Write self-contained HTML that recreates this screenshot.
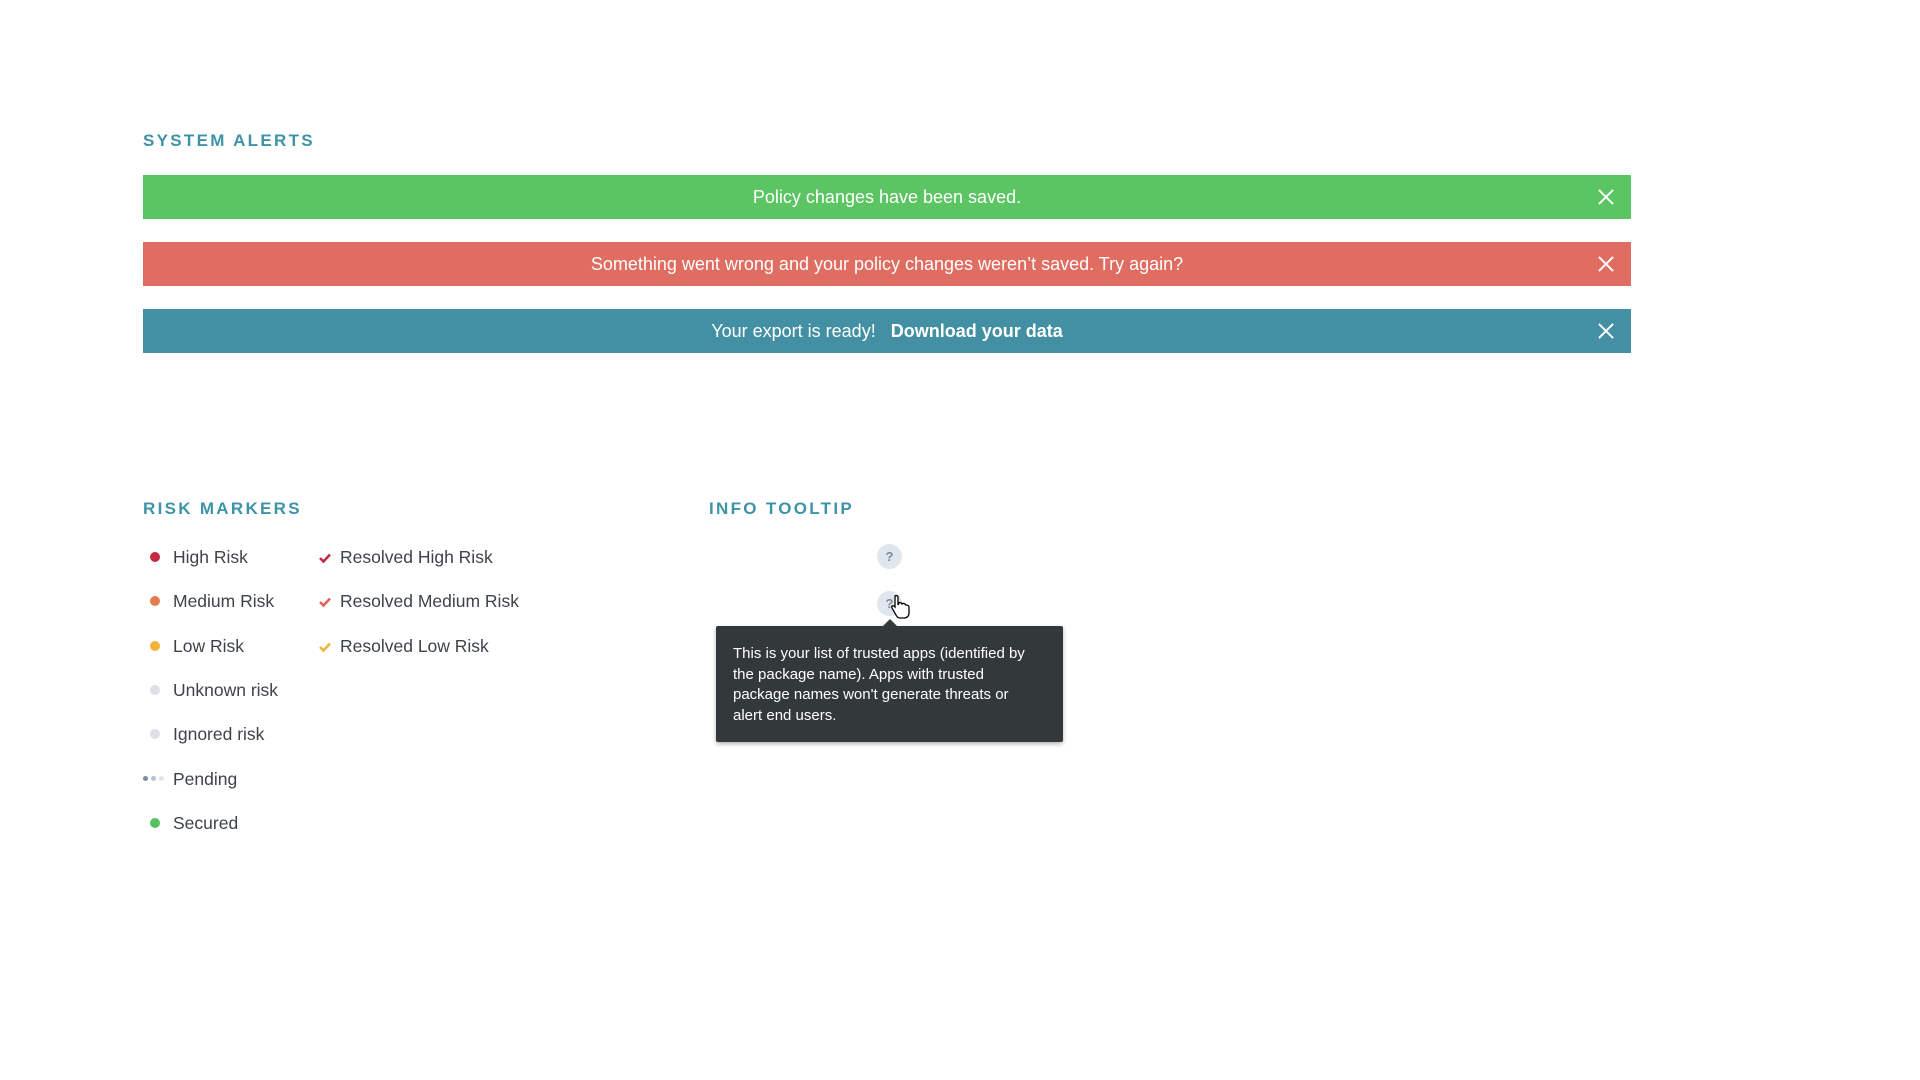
<!DOCTYPE html>
<html><head><meta charset="utf-8"><style>
*{margin:0;padding:0;box-sizing:border-box}
body{width:1920px;height:1080px;background:#fff;font-family:"Liberation Sans",sans-serif;position:relative;overflow:hidden;color:#3d4449}
.h{position:absolute;font-size:17px;font-weight:bold;letter-spacing:2.3px;color:#3f93a6;line-height:20px}
.bar{position:absolute;left:143px;width:1488px;height:44px;color:#fff;font-size:18px;line-height:44px;text-align:center}
.x{position:absolute;right:17px;top:14px;width:16px;height:16px}
.x:before,.x:after{content:"";position:absolute;left:7px;top:-2px;width:2px;height:20px;background:#fff;transform:rotate(45deg)}
.x:after{transform:rotate(-45deg)}
.row{position:absolute;font-size:17.5px;line-height:24px;height:24px}
.dot{position:absolute;width:10px;height:10px;border-radius:50%}
.chk{position:absolute;width:12px;height:12px}
.q{position:absolute;width:25px;height:25px;border-radius:50%;background:#dfe6ee;color:#7a8a9c;font-size:13px;font-weight:bold;text-align:center;line-height:25px}
</style></head><body>
<div class="h" style="left:143px;top:131px">SYSTEM ALERTS</div>
<div class="bar" style="top:175px;background:#5bc463">Policy changes have been saved.<div class="x"></div></div>
<div class="bar" style="top:242px;background:#df6d62">Something went wrong and your policy changes weren’t saved. Try again?<div class="x"></div></div>
<div class="bar" style="top:309px;background:#4390a5">Your export is ready!&nbsp;&nbsp; <b>Download your data</b><div class="x"></div></div>

<div class="h" style="left:143px;top:499px">RISK MARKERS</div>
<div class="row" style="left:150px;top:545px"><span class="dot" style="left:0;top:7px;background:#c42a45"></span><span style="position:absolute;left:23px;white-space:nowrap">High Risk</span></div>
<div class="row" style="left:150px;top:589px"><span class="dot" style="left:0;top:7px;background:#e57b4e"></span><span style="position:absolute;left:23px;white-space:nowrap">Medium Risk</span></div>
<div class="row" style="left:150px;top:634px"><span class="dot" style="left:0;top:7px;background:#f2b53a"></span><span style="position:absolute;left:23px;white-space:nowrap">Low Risk</span></div>
<div class="row" style="left:150px;top:678px"><span class="dot" style="left:0;top:7px;background:#dde1e6"></span><span style="position:absolute;left:23px;white-space:nowrap">Unknown risk</span></div>
<div class="row" style="left:150px;top:722px"><span class="dot" style="left:0;top:7px;background:#dde1e6"></span><span style="position:absolute;left:23px;white-space:nowrap">Ignored risk</span></div>
<div class="row" style="left:143px;top:767px"><span class="dot" style="left:0;top:9px;width:5px;height:5px;background:#7d8ba3"></span><span class="dot" style="left:8px;top:9px;width:5px;height:5px;background:#b9c2cf"></span><span class="dot" style="left:16px;top:9px;width:5px;height:5px;background:#e1e5ea"></span><span style="position:absolute;left:30px;white-space:nowrap">Pending</span></div>
<div class="row" style="left:150px;top:811px"><span class="dot" style="left:0;top:7px;background:#56c15e"></span><span style="position:absolute;left:23px;white-space:nowrap">Secured</span></div>

<div class="row" style="left:319px;top:545px"><svg class="chk" style="left:0;top:7px" viewBox="0 0 12 12"><path d="M1 6 L4.5 9.5 L11 2.5" fill="none" stroke="#c42a45" stroke-width="2.6"/></svg><span style="position:absolute;left:21px;white-space:nowrap">Resolved High Risk</span></div>
<div class="row" style="left:319px;top:589px"><svg class="chk" style="left:0;top:7px" viewBox="0 0 12 12"><path d="M1 6 L4.5 9.5 L11 2.5" fill="none" stroke="#e0625a" stroke-width="2.6"/></svg><span style="position:absolute;left:21px;white-space:nowrap">Resolved Medium Risk</span></div>
<div class="row" style="left:319px;top:634px"><svg class="chk" style="left:0;top:7px" viewBox="0 0 12 12"><path d="M1 6 L4.5 9.5 L11 2.5" fill="none" stroke="#f2b53a" stroke-width="2.6"/></svg><span style="position:absolute;left:21px;white-space:nowrap">Resolved Low Risk</span></div>

<div class="h" style="left:709px;top:499px">INFO TOOLTIP</div>
<div class="q" style="left:877px;top:544px">?</div>
<div class="q" style="left:877px;top:591px">?</div>
<svg style="position:absolute;left:890px;top:594px" width="22" height="26" viewBox="0 0 22 26"><path d="M5 2 C6.5 1 8 2 8 3 L8 11 L9 9 C10 8 12 9 12 10 L13 9.5 C14 9 15.5 10 15.5 11 L16.5 11 C18 11 19 12 19 13 L19 19 C19 22 17 24 14 24 L10 24 C8 24 7 23 6 21 L2 14 C1 12 3 11 4.5 12.5 L5 13 Z" fill="#fff" stroke="#000" stroke-width="1.3"/></svg>
<div style="position:absolute;left:716px;top:626px;width:347px;height:116px;background:#33383b;border-radius:2px;box-shadow:0 2px 4px rgba(0,0,0,.3);color:#fff;font-size:15px;line-height:20.5px;padding:18px 30px 0 17px">This is your list of trusted apps (identified by the package name). Apps with trusted package names won't generate threats or alert end users.</div>
<div style="position:absolute;left:883px;top:619px;width:0;height:0;border-left:7px solid transparent;border-right:7px solid transparent;border-bottom:7px solid #33383b"></div>
</body></html>
